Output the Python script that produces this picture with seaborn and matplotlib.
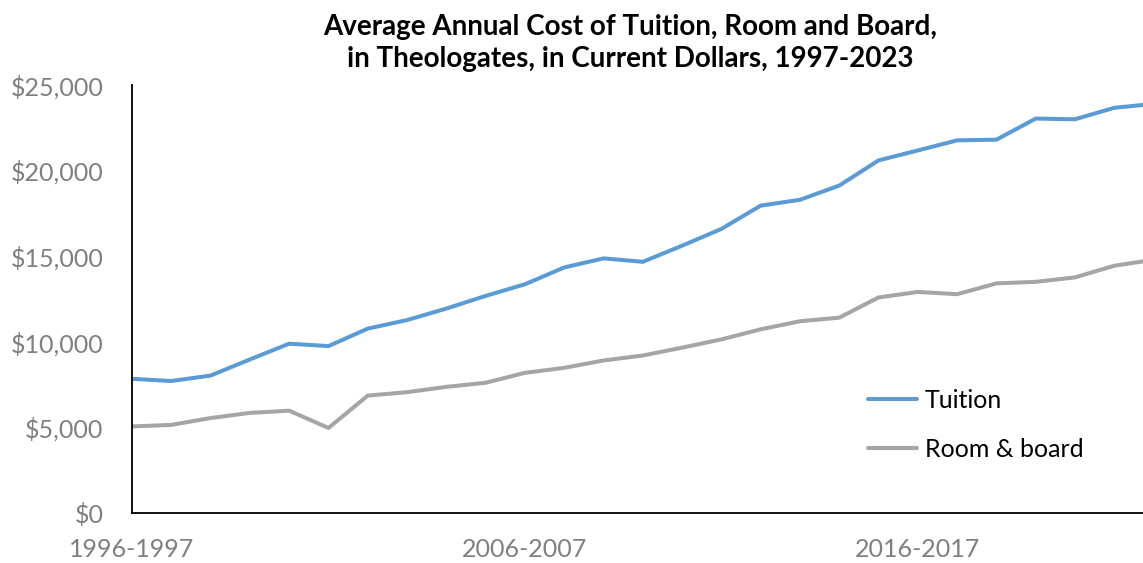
import pandas as pd
import matplotlib.pyplot as plt
import matplotlib.ticker as mticker
import seaborn as sns

# Dados (em dólares correntes)
anos = [f"{a}-{a + 1}" for a in range(1996, 2023)]
tuition = [7850, 7720, 8040, 8980, 9900, 9760, 10780, 11280, 11950,
           12690, 13370, 14350, 14880, 14680, 15620, 16600, 17960, 18300,
           19130, 20600, 21180, 21770, 21810, 23040, 23000, 23670, 23900]
room_board = [5070, 5160, 5560, 5860, 5990, 4980, 6870, 7070, 7380,
              7620, 8200, 8490, 8920, 9210, 9670, 10150, 10740, 11210,
              11420, 12600, 12920, 12790, 13420, 13510, 13770, 14450, 14800]
series_names = ["Tuition", "Room & board"]
tick_labels = ["1996-1997", "2006-2007", "2016-2017"]

df = pd.DataFrame({"ano": anos, "idx": range(len(anos)),
                   "Tuition": tuition, "Room & board": room_board})
df_long = df.melt(id_vars=["ano", "idx"], value_vars=series_names,
                  var_name="serie", value_name="custo")

sns.set_theme(style="white")
plt.rcParams['font.family'] = ['Lato', 'DejaVu Sans']

fig = plt.figure(figsize=(11.43, 5.63), dpi=100)
ax = fig.add_axes([0.1155, 0.0883, 0.8845, 0.7607])

sns.lineplot(data=df_long, x="idx", y="custo", hue="serie",
             palette={"Tuition": "#5B9BD5", "Room & board": "#A5A5A5"},
             linewidth=2.9, ax=ax, legend=True)

ax.set_xlim(0, 25.73)
ax.set_ylim(0, 25000)
ax.yaxis.set_major_locator(mticker.MultipleLocator(5000))
ax.yaxis.set_major_formatter(mticker.StrMethodFormatter("${x:,.0f}"))
ax.set_xticks([anos.index(t) for t in tick_labels])
ax.set_xticklabels(tick_labels)
ax.set_xlabel("")
ax.set_ylabel("")

for s in ["top", "right"]:
    ax.spines[s].set_visible(False)
for s in ["left", "bottom"]:
    ax.spines[s].set_color("black")
    ax.spines[s].set_linewidth(1.3)

ax.tick_params(axis="both", which="major", direction="out", length=6.5,
               width=1.3, color="black", labelsize=18, labelcolor="#7f7f7f")
ax.tick_params(axis="x", pad=11)
ax.tick_params(axis="y", pad=14)
ax.grid(False)

leg = ax.legend(frameon=False, fontsize=18, loc="center left",
                bbox_to_anchor=(0.728, 0.206), borderpad=0, borderaxespad=0,
                handlelength=1.96, handletextpad=0.32, labelspacing=1.05)
for line in leg.get_lines():
    line.set_linewidth(2.9)
for txt in leg.get_texts():
    txt.set_color("black")

# Título em duas linhas
fig.text(0.551, 1 - 35 / 563, "Average Annual Cost of Tuition, Room and Board,",
         ha="center", va="baseline", fontsize=20, fontweight="bold", color="black")
fig.text(0.551, 1 - 67 / 563, "in Theologates, in Current Dollars, 1997-2023",
         ha="center", va="baseline", fontsize=20, fontweight="bold", color="black")

plt.savefig("out.png", dpi=100)
